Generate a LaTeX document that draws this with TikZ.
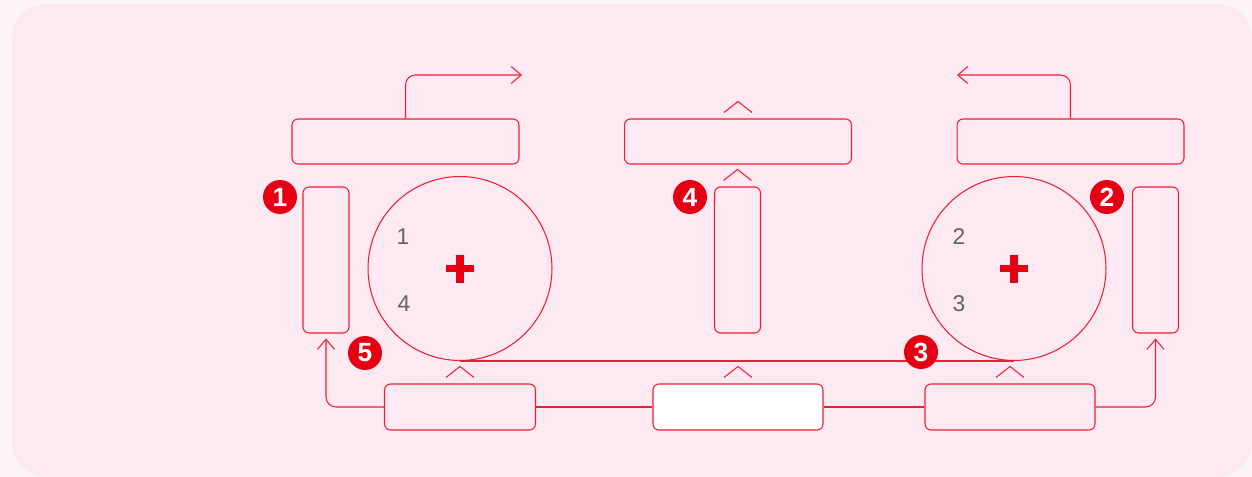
\documentclass[tikz,border=0pt]{standalone}
\usepackage{fontspec}
\setmainfont{Liberation Sans}
\usepackage{tikz}
\usepackage{xcolor}
\usetikzlibrary{arrows.meta, positioning}
\definecolor{flowred}{RGB}{236,32,52}
\definecolor{badgered}{RGB}{228,0,18}
\definecolor{pagepink}{RGB}{253,244,247}
\definecolor{panelpink}{RGB}{252,233,241}
\definecolor{ghostpink}{RGB}{252,235,242}
\definecolor{numgray}{RGB}{100,100,100}

\begin{document}
\begin{tikzpicture}[
  x=0.02cm, y=-0.02cm,
  wide/.style={rectangle, draw=flowred, line width=0.6pt, rounded corners=1.2mm,
               minimum width=4.54cm, minimum height=0.9cm},
  tall/.style={rectangle, draw=flowred, line width=0.6pt, rounded corners=1.2mm,
               minimum width=0.92cm, minimum height=2.92cm},
  low/.style={rectangle, draw=flowred, line width=0.6pt, rounded corners=1.2mm,
              minimum width=3.4cm, minimum height=0.92cm},
  drum/.style={circle, draw=flowred, line width=0.6pt, minimum size=3.68cm},
  ghost/.style={rectangle, fill=ghostpink, rounded corners=1mm, minimum height=0.88cm},
  badge/.style={circle, fill=badgered, text=white, inner sep=0pt, minimum size=0.68cm,
                font=\fontsize{15}{15}\selectfont\bfseries},
  num/.style={text=numgray, font=\fontsize{13}{15}\selectfont},
  wire/.style={flowred, line width=0.6pt},
  arrow/.style={-{Straight Barb[length=2mm, width=3.4mm]}, flowred, line width=0.6pt,
                rounded corners=2mm},
  caret/.pic={\draw[wire] (-14,-6) -- (0,-17) -- (14,-6);},
  cross/.pic={\draw[badgered, line width=1.5mm] (-14,0) -- (14,0) (0,-14) -- (0,14);}
]
\useasboundingbox (0,0) rectangle (1252,477);
\fill[pagepink] (0,0) rectangle (1252,477);
\fill[panelpink, rounded corners=0.7cm] (12,4) rectangle (1252,477);

% faint placeholders
\node[ghost, minimum width=2.86cm] (g1) at (159.5,73.5) {};
\node[ghost, minimum width=2.86cm] (g2) at (159.5,148.5) {};
\node[ghost, minimum width=2.86cm] (g3) at (159.5,245) {};
\node[ghost, minimum width=2.86cm] (g4) at (159.5,330.5) {};
\node[ghost, minimum width=8.04cm] (g5) at (741,73.5) {};

\node[wide] (feedL) at (405.5,141.5) {};
\node[wide] (feedM) at (738,141.5) {};
\node[wide] (feedR) at (1070.5,141.5) {};

\node[tall] (sideL) at (326,260) {};
\node[tall] (sideM) at (737.5,260) {};
\node[tall] (sideR) at (1155.5,260) {};

\node[drum] (drumL) at (460,268.5) {};
\node[drum] (drumR) at (1014,268.5) {};

\node[low, minimum width=3.02cm] (baseL) at (460,407) {};
\node[low, fill=white] (baseM) at (738,407) {};
\node[low] (baseR) at (1010,407) {};

\node[num] (n1) at (403,237) {1};
\node[num] (n4) at (404,304) {4};
\node[num] (n2) at (959,237) {2};
\node[num] (n3) at (959,304) {3};

\pic at (drumL.center) {cross};
\pic at (drumR.center) {cross};

\coordinate (outL) at (522,75);
\coordinate (outR) at (957,75);
\draw[arrow] (feedL.north) |- (outL);
\draw[arrow] (feedR.north) |- (outR);
\draw[arrow] (baseL.west) -| ([yshift=-1mm]sideL.south);
\draw[arrow] (baseR.east) -| ([yshift=-1mm]sideR.south);
\draw[wire] (baseL.east) -- (baseM.west);
\draw[wire] (baseM.east) -- (baseR.west);
\draw[wire] (drumL.south) -- (drumR.south);

\pic at (feedM.north) {caret};
\pic at (sideM.north) {caret};
\pic at (baseL.north) {caret};
\pic at (baseM.north) {caret};
\pic at (baseR.north) {caret};

\node[badge] (b1) at (280,197) {1};
\node[badge] (b2) at (1107,197) {2};
\node[badge] (b3) at (921,352) {3};
\node[badge] (b4) at (690,197) {4};
\node[badge] (b5) at (365,353) {5};
\end{tikzpicture}
\end{document}
